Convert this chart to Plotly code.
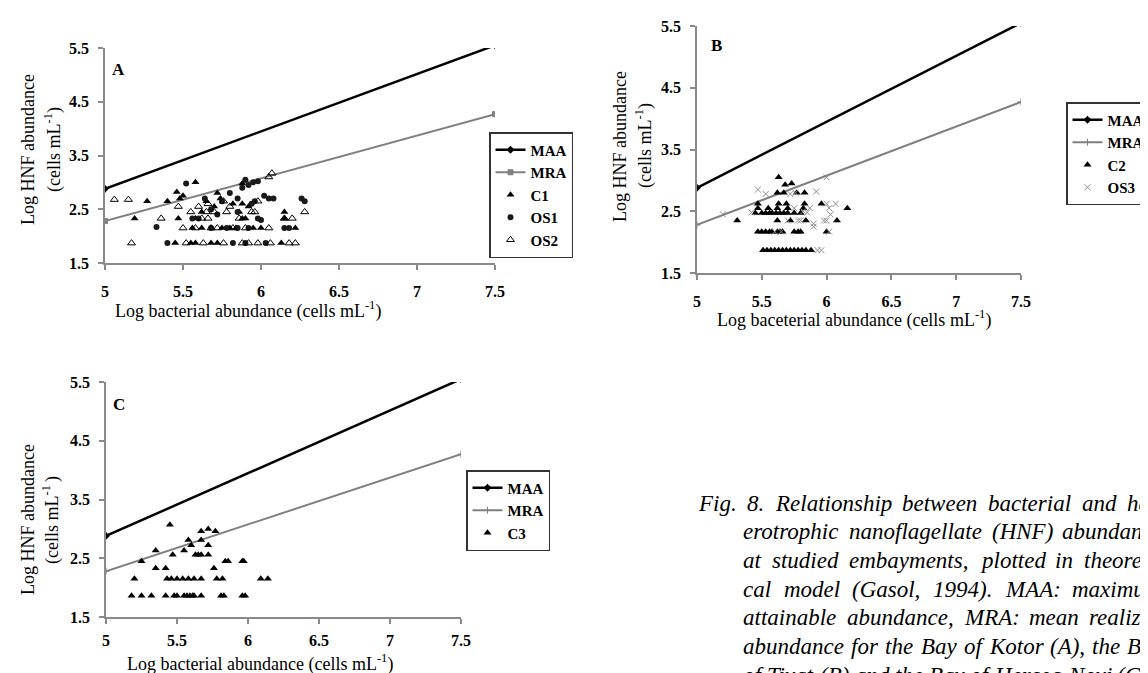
import plotly.graph_objects as go

W, H = 1148, 673
FONT = "Liberation Serif"

# ---------------- data ----------------
line_x = [5, 7.5]
maa_y = [2.88, 5.55]
mra_y = [2.28, 4.27]

x_ticks = [5, 5.5, 6, 6.5, 7, 7.5]
x_ticktext = ["5", "5.5", "6", "6.5", "7", "7.5"]
y_ticks = [1.5, 2.5, 3.5, 4.5, 5.5]
y_ticktext = ["1.5", "2.5", "3.5", "4.5", "5.5"]

# Panel A (Bay of Kotor)
c1_x = [5.19, 5.27, 5.40, 5.46, 5.47, 5.48, 5.50, 5.58, 5.45, 5.55, 5.58, 5.56, 5.58, 5.62,
        5.65, 5.68, 5.72, 5.74, 5.72, 5.75, 5.80, 5.84, 5.86, 5.88, 5.88, 5.88, 5.92, 5.95,
        6.00, 6.13, 6.15, 6.15, 6.22, 5.82, 5.70, 5.90, 5.62]
c1_y = [2.33, 2.65, 2.65, 2.82, 2.33, 2.70, 2.75, 3.00, 1.87, 1.87, 1.87, 2.15, 2.33, 2.45,
        2.65, 1.87, 2.80, 2.70, 1.87, 2.15, 2.15, 2.15, 2.45, 2.60, 2.33, 2.98, 2.55, 2.15,
        2.15, 1.87, 2.45, 2.33, 2.15, 2.60, 2.55, 2.33, 2.15]

os1_x = [5.33, 5.40, 5.52, 5.56, 5.60, 5.64, 5.68, 5.72, 5.78, 5.80, 5.82, 5.85, 5.88, 5.90,
         5.92, 5.94, 5.95, 5.98, 5.98, 6.00, 6.02, 6.05, 6.08, 6.03, 5.90, 5.85, 5.92, 6.15,
         6.18, 6.26, 6.28, 5.96, 5.75, 5.85, 5.68]
os1_y = [2.17, 1.87, 2.98, 2.33, 2.33, 2.70, 2.15, 2.40, 2.15, 2.80, 1.87, 2.70, 2.90, 3.05,
         2.95, 2.60, 3.00, 3.02, 2.33, 2.30, 2.75, 2.70, 2.70, 1.87, 1.87, 2.15, 2.15, 2.15,
         2.15, 2.70, 2.65, 2.65, 2.65, 2.45, 2.50]

os2_x = [5.06, 5.15, 5.17, 5.36, 5.47, 5.50, 5.52, 5.55, 5.60, 5.63, 5.62, 5.65, 5.66, 5.70,
         5.72, 5.76, 5.76, 5.78, 5.82, 5.86, 5.88, 5.90, 5.92, 5.94, 5.96, 5.98, 6.05, 6.07,
         6.06, 6.05, 6.15, 6.20, 6.18, 6.22, 6.28, 5.58, 5.68, 5.98, 5.80, 5.66]
os2_y = [2.68, 2.68, 1.87, 2.33, 2.55, 2.15, 1.87, 2.45, 2.55, 1.87, 2.33, 2.45, 2.33, 2.45,
         2.15, 1.87, 2.65, 2.45, 2.15, 2.33, 1.87, 2.15, 1.87, 2.45, 2.45, 2.65, 3.10, 3.17,
         1.87, 2.15, 2.33, 2.33, 1.87, 1.87, 2.45, 2.15, 2.15, 1.87, 2.55, 2.60]

# Panel B (Bay of Tivat)
c2_x = [5.51, 5.54, 5.57, 5.60, 5.63, 5.66, 5.69, 5.72, 5.75, 5.78, 5.81, 5.84, 5.88,
        5.47, 5.50, 5.53, 5.56, 5.58, 5.62, 5.64, 5.66, 5.75, 5.78, 5.80, 6.00,
        5.31, 5.62, 5.72, 5.84, 6.08,
        5.45, 5.50, 5.53, 5.56, 5.58, 5.61, 5.64, 5.67, 5.70, 5.75, 5.80,
        5.47, 5.55, 5.62, 5.70, 5.82, 6.16,
        5.47, 5.63, 5.69, 5.83, 5.96,
        5.62, 5.67, 5.77, 5.83,
        5.68, 5.73, 5.63]
c2_y = [1.87] * 13 + [2.17] * 12 + [2.35] * 5 + [2.47] * 11 + [2.55] * 6 + [2.62] * 5 + \
       [2.80] * 4 + [2.93, 2.95, 3.05]

os3_x = [5.20, 5.42, 5.47, 5.53, 5.60, 5.65, 5.70, 5.72, 5.75, 5.78, 5.80, 5.82, 5.85, 5.90,
         5.90, 5.92, 5.93, 5.96, 5.98, 6.00, 6.00, 6.02, 6.03, 6.07, 6.00, 6.02, 5.76, 5.87]
os3_y = [2.45, 2.48, 2.85, 2.78, 2.17, 2.17, 2.35, 2.78, 2.55, 2.35, 2.35, 2.50, 2.48, 2.30,
         2.25, 2.82, 1.87, 1.87, 2.35, 2.35, 2.62, 2.55, 2.45, 2.62, 3.05, 2.17, 2.80, 2.55]

# Panel C (Bay of Herceg Novi)
c3_x = [5.18, 5.25, 5.32, 5.42, 5.48, 5.50, 5.55, 5.57, 5.59, 5.61, 5.62, 5.67, 5.81, 5.83,
        5.96, 5.98,
        5.20, 5.43, 5.46, 5.50, 5.54, 5.58, 5.62, 5.67, 5.78, 5.82, 6.09, 6.14,
        5.35, 5.42, 5.76,
        5.25, 5.84, 5.86, 5.96, 5.97,
        5.47, 5.63, 5.65, 5.67, 5.72,
        5.35, 5.55, 5.60, 5.72, 5.58, 5.67, 5.67, 5.77, 5.72, 5.45]
c3_y = [1.86] * 16 + [2.15] * 12 + [2.33] * 3 + [2.45] * 5 + [2.56] * 5 + \
       [2.63, 2.63, 2.72, 2.72, 2.81, 2.81, 2.96, 2.96, 3.00, 3.07]

panel_letters = ["A", "B", "C"]
x_title_a = "Log bacterial abundance (cells mL<sup>-1</sup>)"
x_title_b = "Log baceterial abundance (cells mL<sup>-1</sup>)"
x_title_c = "Log bacterial abundance (cells mL<sup>-1</sup>)"
y_title_1 = "Log HNF abundance"
y_title_2 = "(cells mL<sup>-1</sup>)"
y_title_2c = "(cells mL<sup>-1 </sup>)"

caption_lines = [
    "Fig. 8. Relationship between bacterial and het-",
    "erotrophic nanoflagellate (HNF) abundance",
    "at studied embayments, plotted in theoreti-",
    "cal model (Gasol, 1994). MAA: maximum",
    "attainable abundance, MRA: mean realized",
    "abundance for the Bay of Kotor (A), the Bay",
    "of Tivat (B) and the Bay of Herceg Novi (C).",
]

# ---------------- helpers ----------------
def X(px):
    return px / W


def Y(py):
    return 1 - py / H


BLACK = "#000000"
GRAY = "#808080"
AXC = "#8a8a8a"

fig = go.Figure()


def add_lines(xa, ya, leg, mra_symbol):
    fig.add_trace(go.Scatter(x=line_x, y=maa_y, mode="lines+markers", name="MAA",
                             line=dict(color=BLACK, width=2.5),
                             marker=dict(symbol="diamond", size=6, color=BLACK),
                             xaxis=xa, yaxis=ya, legend=leg, legendgroup=leg + "maa"))
    fig.add_trace(go.Scatter(x=line_x, y=mra_y, mode="lines+markers", name="MRA",
                             line=dict(color=GRAY, width=2),
                             marker=dict(symbol=mra_symbol, size=5, color=GRAY,
                                         line=dict(color=GRAY, width=1)),
                             xaxis=xa, yaxis=ya, legend=leg, legendgroup=leg + "mra"))


def add_pts(xs, ys, name, symbol, color, size, xa, ya, leg, lw=0):
    fig.add_trace(go.Scatter(x=xs, y=ys, mode="markers", name=name,
                             marker=dict(symbol=symbol, size=size, color=color,
                                         line=dict(color=color, width=lw)),
                             xaxis=xa, yaxis=ya, legend=leg, legendgroup=leg + name))


# Panel A
add_lines("x", "y", "legend", "square")
add_pts(c1_x, c1_y, "C1", "triangle-up", BLACK, 7, "x", "y", "legend")
add_pts(os1_x, os1_y, "OS1", "circle", "#1a1a1a", 6, "x", "y", "legend")
add_pts(os2_x, os2_y, "OS2", "triangle-up-open", BLACK, 7, "x", "y", "legend", lw=1)
# Panel B
add_lines("x2", "y2", "legend2", "cross-thin-open")
add_pts(c2_x, c2_y, "C2", "triangle-up", BLACK, 7, "x2", "y2", "legend2")
add_pts(os3_x, os3_y, "OS3", "x-thin-open", "#8c8c8c", 6, "x2", "y2", "legend2", lw=1)
# Panel C
add_lines("x3", "y3", "legend3", "cross-thin-open")
add_pts(c3_x, c3_y, "C3", "triangle-up", BLACK, 7, "x3", "y3", "legend3")

tickfont = dict(family=FONT, size=16, color=BLACK, weight="bold")


def xax(x0, x1, anchor, standoff=8):
    return dict(domain=[X(x0), X(x1)], range=[5, 7.5], anchor=anchor,
                tickvals=x_ticks, ticktext=x_ticktext, tickfont=tickfont,
                showline=True, linecolor=AXC, linewidth=1.5, ticks="outside",
                ticklen=5, tickcolor=AXC, tickwidth=1.5, showgrid=False,
                zeroline=False, ticklabelstandoff=standoff, fixedrange=True)


def yax(y0, y1, anchor):
    return dict(domain=[Y(y1), Y(y0)], range=[1.5, 5.5], anchor=anchor,
                tickvals=y_ticks, ticktext=y_ticktext, tickfont=tickfont,
                showline=True, linecolor=AXC, linewidth=1.5, ticks="outside",
                ticklen=5, tickcolor=AXC, tickwidth=1.5, showgrid=False,
                zeroline=False, ticklabelstandoff=6, fixedrange=True)


def legend_at(px, py):
    return dict(x=X(px), y=Y(py), xanchor="left", yanchor="top",
                bgcolor="white", bordercolor="#333333", borderwidth=1.5,
                font=dict(family=FONT, size=15, color=BLACK, weight="bold"),
                tracegroupgap=2, itemwidth=30, traceorder="normal")


ann = []
title_font = dict(family=FONT, size=18, color=BLACK)


def text(px, py, s, font, angle=0, xanchor="center"):
    ann.append(dict(x=X(px), y=Y(py), xref="paper", yref="paper", text=s,
                    showarrow=False, font=font, textangle=angle,
                    xanchor=xanchor, yanchor="middle", borderpad=0, borderwidth=0))


letter_font = dict(family=FONT, size=17, color=BLACK, weight="bold")
text(110, 61, panel_letters[0], letter_font)
text(708, 37, panel_letters[1], letter_font)
text(111, 396, panel_letters[2], letter_font)

text(240, 302, x_title_a, title_font)
text(846, 311, x_title_b, title_font)
text(252, 655, x_title_c, title_font)

text(20, 142, y_title_1, title_font, -90)
text(45, 142, y_title_2, title_font, -90)
text(612, 138, y_title_1, title_font, -90)
text(636, 138, y_title_2, title_font, -90)
text(20, 512, y_title_1, title_font, -90)
text(43, 512, y_title_2c, title_font, -90)

# caption: justified text (Times italic advance widths, per 1000 em)
ITALIC_W = {" ": 250, "(": 333, ")": 333, ",": 250, "-": 333, ".": 250, ":": 333,
            "A": 611, "B": 611, "C": 667, "F": 611, "G": 722, "H": 722, "K": 667,
            "M": 833, "N": 667, "R": 611, "T": 556, "a": 500, "b": 500, "c": 444,
            "d": 500, "e": 444, "f": 278, "g": 500, "h": 500, "i": 278, "k": 444,
            "l": 278, "m": 722, "n": 500, "o": 500, "p": 500, "r": 389, "s": 389,
            "t": 278, "u": 500, "v": 444, "w": 667, "y": 444, "z": 389}
cap_fs = 23
cap_font = dict(family=FONT, size=cap_fs, color=BLACK, style="italic")


def tw(s):
    return sum(ITALIC_W.get(ch, 500) for ch in s) * cap_fs / 1000.0


cap_right = 1155
cap_y0, cap_dy = 495, 28.7
for i, line in enumerate(caption_lines):
    x0 = 690 if i == 0 else 735
    words = line.split(" ")
    if i < len(caption_lines) - 1:
        gap = (cap_right - x0 - sum(tw(w) for w in words)) / (len(words) - 1)
    else:
        gap = tw(" ")
    xc = x0
    for wd in words:
        text(xc, cap_y0 + i * cap_dy, wd, cap_font, xanchor="left")
        xc += tw(wd) + gap

fig.update_layout(
    width=W, height=H,
    margin=dict(l=0, r=0, t=0, b=0, autoexpand=False),
    paper_bgcolor="white", plot_bgcolor="white",
    xaxis=xax(97, 487, "y"), yaxis=yax(40, 255, "x"),
    xaxis2=xax(689, 1013, "y2"), yaxis2=yax(18, 265, "x2"),
    xaxis3=xax(98, 453, "y3", standoff=3), yaxis3=yax(374, 609, "x3"),
    legend=legend_at(481, 124),
    legend2=legend_at(1058, 94),
    legend3=legend_at(458, 462),
    annotations=ann,
    showlegend=True,
)

fig.write_html("out.html")
